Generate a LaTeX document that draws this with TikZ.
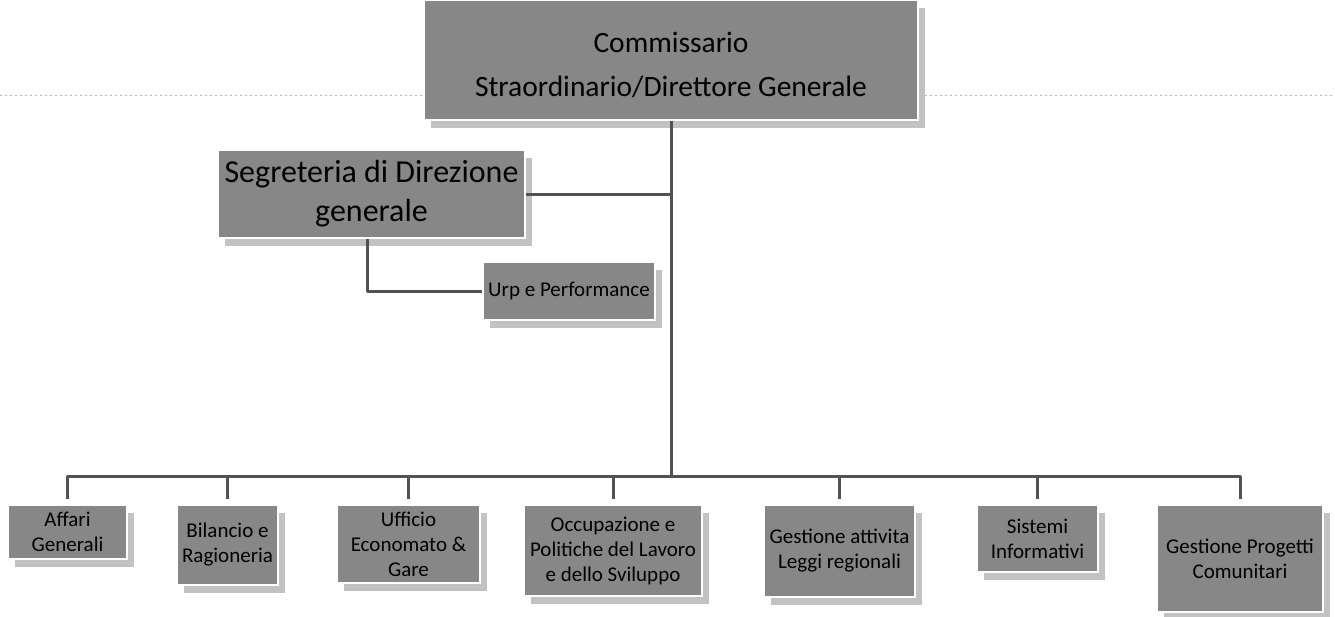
\documentclass[tikz,border=0pt]{standalone}
\usepackage{fontspec}
\setmainfont{Carlito}
\usetikzlibrary{shadows}
\definecolor{boxgray}{gray}{0.53}
\definecolor{shadowgray}{gray}{0.76}
\definecolor{linegray}{gray}{0.32}
\begin{document}
\begin{tikzpicture}[x=1pt,y=-1pt,
  orgbox/.style={fill=boxgray, draw=white, line width=1.5pt, inner sep=0pt, align=center, text=black,
    drop shadow={shadow xshift=7pt, shadow yshift=-8pt, fill=shadowgray, opacity=1}},
  small/.style={font=\fontsize{21}{25}\selectfont},
  conn/.style={draw=linegray, line width=3pt, line join=round}]
\useasboundingbox (0,0) rectangle (1335,616);
\draw[gray!55, line width=0.8pt, dash pattern=on 2pt off 3pt] (0,95) -- (1335,95);

\node[orgbox, minimum width=494pt, minimum height=120pt, font=\fontsize{29.5}{44}\selectfont] (top) at (671,60) {\rule{0pt}{30pt}Commissario\\Straordinario/Direttore Generale};
\node[orgbox, minimum width=307pt, minimum height=88pt, font=\fontsize{32}{39}\selectfont] (seg) at (371.5,194) {Segreteria di Direzione\\generale};
\node[orgbox, small, minimum width=172pt, minimum height=58pt] (urp) at (569,291) {Urp e Performance};

\node[orgbox, small, minimum width=119pt, minimum height=54pt] (aff) at (67.5,532) {Affari\\Generali};
\node[orgbox, small, minimum width=101pt, minimum height=80pt] (bil) at (227.5,545) {Bilancio e\\Ragioneria};
\node[orgbox, small, minimum width=143pt, minimum height=78pt] (uff) at (408.5,544) {Ufficio\\Economato \&\\Gare};
\node[orgbox, small, minimum width=178pt, minimum height=91pt] (occ) at (613,550.5) {Occupazione e\\Politiche del Lavoro\\e dello Sviluppo};
\node[orgbox, small, minimum width=151pt, minimum height=92pt] (ges) at (839.5,551) {Gestione attivita\\Leggi regionali};
\node[orgbox, small, minimum width=121pt, minimum height=67pt] (sis) at (1037.5,538.5) {Sistemi\\Informativi};
\node[orgbox, small, minimum width=166pt, minimum height=107pt] (gpc) at (1240,558.5) {Gestione Progetti\\Comunitari};

\coordinate (bus) at (671,476);
\draw[conn] (top.south) -- (bus);
\draw[conn] (seg.east) -- (seg.east -| bus);
\draw[conn] ([xshift=-4.5pt]seg.south) |- (urp.west);
\foreach \n in {aff,bil,uff,occ,ges,sis,gpc}
  \draw[conn, shorten >=5pt] (bus) -| (\n.north);
\end{tikzpicture}
\end{document}
